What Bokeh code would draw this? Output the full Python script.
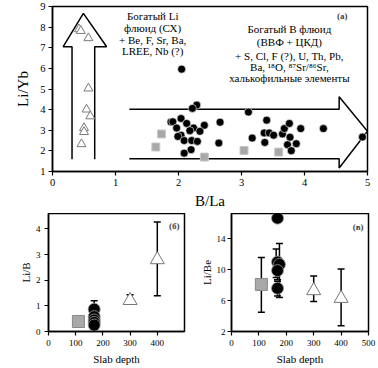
from bokeh.plotting import figure
from bokeh.layouts import column, row
from bokeh.models import FixedTicker, ColumnDataSource, Whisker, TeeHead, Label
from bokeh.embed import file_html
from bokeh.resources import INLINE

FONT = "Liberation Serif"

# ---------- panel (а): Li/Yb vs B/La ----------
tri_bla = [0.42, 0.45, 0.57, 0.57, 0.54, 0.60, 0.50, 0.50, 0.46]
tri_liyb = [7.90, 7.82, 7.47, 5.03, 4.01, 3.68, 3.11, 2.92, 2.33]

circ_bla = [2.05, 2.29, 2.22, 3.11, 1.88, 1.91, 2.04, 2.13, 1.97, 2.24, 2.41, 2.34, 2.18, 2.04,
            1.99, 2.09, 2.21, 2.30, 2.20, 2.09, 2.66, 2.64, 3.17, 3.40, 3.36, 3.44, 3.37, 3.51,
            3.65, 3.68, 3.76, 3.77, 3.73, 3.87, 3.79, 3.94, 4.30, 4.92]
circ_liyb = [5.96, 4.22, 4.06, 3.88, 3.40, 3.41, 3.57, 3.33, 3.11, 3.11, 3.24, 2.95, 2.98, 2.76,
             2.70, 2.50, 2.50, 2.46, 2.06, 1.89, 3.39, 2.38, 2.62, 3.49, 2.87, 2.87, 2.41, 2.76,
             2.82, 3.08, 3.33, 2.66, 2.30, 2.35, 2.01, 3.08, 3.08, 2.67]

sq_bla = [1.64, 1.73, 2.41, 3.04, 3.59]
sq_liyb = [2.19, 2.82, 1.70, 2.02, 1.94]

# arrow outlines (annotation shapes)
varrow_x = [0.31, 0.31, 0.17, 0.49, 0.86, 0.67, 0.67]
varrow_y = [1.60, 7.05, 7.05, 8.67, 7.05, 7.05, 1.60]
harrow_x = [1.22, 4.55, 4.55, 5.00, 4.55, 4.55, 1.22]
harrow_y = [4.02, 4.02, 4.62, 2.95, 1.17, 1.62, 1.62]

left_text = ["Богатый Li", "флюид (СХ)", "+ Be, F, Sr, Ba,", "LREE, Nb (?)"]
left_text_y = [8.52, 7.95, 7.38, 6.85]
right_text = ["Богатый B флюид", "(ВВФ + ЦКД)", "+ S, Cl, F (?), U, Th, Pb,",
              "Ba, \u00b9\u2078O, \u2078\u2077Sr/\u2078\u2076Sr,", "халькофильные элементы"]
right_text_y = [7.91, 7.26, 6.61, 6.07, 5.55]

# ---------- panel (б): Li/B vs slab depth ----------
b_sq_x, b_sq_y = [110], [0.39]
b_circ_x, b_circ_y = [168, 168, 168, 168, 168], [0.87, 0.58, 0.45, 0.35, 0.25]
b_tri_x, b_tri_y = [300, 400], [1.21, 2.80]
b_err_x = [168, 300, 400]
b_err_lo = [0.87, 1.21, 1.39]
b_err_hi = [1.20, 1.43, 4.27]

# ---------- panel (в): Li/Be vs slab depth ----------
c_sq_x, c_sq_y = [109], [8.1]
c_circ_x, c_circ_y = [168, 168, 175, 168, 168], [16.7, 11.0, 10.7, 9.9, 7.6]
c_tri_x, c_tri_y = [300, 400], [7.3, 6.3]
c_err_x = [109, 163, 175, 168, 168, 300, 400]
c_err_lo = [4.5, 9.0, 6.4, 8.7, 6.6, 5.9, 2.75]
c_err_hi = [11.6, 12.7, 13.4, 11.0, 8.5, 9.2, 10.1]


def style_axes(p, tick_size, label_size):
    for ax in (p.xaxis, p.yaxis):
        ax.axis_line_width = 1.5
        ax.axis_line_color = "black"
        ax.major_tick_line_width = 1.2
        ax.major_tick_out = 4
        ax.major_tick_in = 0
        ax.minor_tick_line_color = None
        ax.major_label_text_font = FONT
        ax.major_label_text_font_size = tick_size
        ax.major_label_text_color = "black"
        ax.axis_label_text_font = FONT
        ax.axis_label_text_font_size = label_size
        ax.axis_label_text_font_style = "normal"
        ax.axis_label_text_color = "black"
    p.grid.visible = False
    p.outline_line_color = "black"
    p.outline_line_width = 1.5
    p.outline_line_alpha = 1.0


# main panel
p = figure(width=374, height=213, x_range=(0, 5), y_range=(1, 9),
           output_backend="svg", toolbar_location=None, margin=(0, 0, 0, 4),
           min_border_left=48, min_border_right=11, min_border_top=6, min_border_bottom=42)
style_axes(p, "10.5px", "15px")
p.xaxis.ticker = FixedTicker(ticks=[0, 1, 2, 3, 4, 5])
p.yaxis.ticker = FixedTicker(ticks=[1, 2, 3, 4, 5, 6, 7, 8, 9])
p.xaxis.axis_label = "B/La"
p.yaxis.axis_label = "Li/Yb"
p.xaxis.major_label_standoff = 3
p.xaxis.axis_label_standoff = 4
p.yaxis.major_label_standoff = 3
p.yaxis.axis_label_standoff = 6

p.line(varrow_x, varrow_y, line_color="black", line_width=1.5)
p.line(harrow_x, harrow_y, line_color="black", line_width=1.5)

p.scatter(tri_bla, tri_liyb, marker="triangle", size=9, fill_color="white",
          line_color="#7a7a7a", line_width=1)
p.scatter(sq_bla, sq_liyb, marker="square", size=8, fill_color="#a8a8a8",
          line_color="#c8c8c8", line_width=1)
p.scatter(circ_bla, circ_liyb, marker="circle", size=8, fill_color="black",
          line_color="white", line_width=0.6)

for txt, yy in zip(left_text, left_text_y):
    p.add_layout(Label(x=1.59, y=yy, text=txt, text_font=FONT, text_font_size="11px",
                       text_align="center", text_baseline="middle", text_color="black"))
for txt, yy in zip(right_text, right_text_y):
    p.add_layout(Label(x=3.76, y=yy, text=txt, text_font=FONT, text_font_size="11px",
                       text_align="center", text_baseline="middle", text_color="black"))
p.add_layout(Label(x=4.6, y=8.56, text="(а)", text_font=FONT, text_font_size="9px",
                   text_font_style="bold", text_align="center", text_baseline="middle"))


def sub_panel(xs_sq, ys_sq, xs_c, ys_c, xs_t, ys_t, ex, elo, ehi, yr, yticks, xticks,
              ylabel, tag, tag_y, width, bl, br, shift, tick_standoff):
    q = figure(width=width - shift, height=155, x_range=(0, 500), y_range=yr,
               output_backend="svg", toolbar_location=None, margin=(0, 0, 0, shift),
               min_border_left=bl - shift, min_border_right=br, min_border_top=0,
               min_border_bottom=37)
    style_axes(q, "9px", "11px")
    q.xaxis.ticker = FixedTicker(ticks=xticks)
    q.yaxis.ticker = FixedTicker(ticks=yticks)
    q.xaxis.axis_label = "Slab depth"
    q.yaxis.axis_label = ylabel
    q.xaxis.major_label_standoff = 4
    q.xaxis.axis_label_standoff = 4
    q.yaxis.major_label_standoff = tick_standoff
    q.yaxis.axis_label_standoff = 1
    src = ColumnDataSource(dict(x=ex, lo=elo, hi=ehi))
    w = Whisker(source=src, base="x", lower="lo", upper="hi", line_width=1.5,
                line_color="black", level="underlay",
                upper_head=TeeHead(size=7, line_width=1.5, line_color="black"),
                lower_head=TeeHead(size=7, line_width=1.5, line_color="black"))
    q.add_layout(w)
    q.scatter(xs_sq, ys_sq, marker="square", size=12, fill_color="#a8a8a8",
              line_color="#888888", line_width=1)
    q.scatter(xs_c, ys_c, marker="circle", size=12, fill_color="black",
              line_color="#999999", line_width=0.8)
    q.scatter(xs_t, ys_t, marker="triangle", size=14, fill_color="white",
              line_color="#777777", line_width=1)
    q.add_layout(Label(x=462, y=tag_y, text=tag, text_font=FONT, text_font_size="9px",
                       text_font_style="bold", text_align="center", text_baseline="middle"))
    return q


pb = sub_panel(b_sq_x, b_sq_y, b_circ_x, b_circ_y, b_tri_x, b_tri_y,
               b_err_x, b_err_lo, b_err_hi, (0, 4.6), [0, 1, 2, 3, 4], [0, 100, 200, 300, 400],
               "Li/B", "(б)", 4.1, 188, 48, 4, 8, 4)
pc = sub_panel(c_sq_x, c_sq_y, c_circ_x, c_circ_y, c_tri_x, c_tri_y,
               c_err_x, c_err_lo, c_err_hi, (2, 17.3), [2, 6, 10, 14],
               [0, 100, 200, 300, 400, 500], "Li/Be", "(в)", 15.5, 190, 42, 10, 9, 2)

layout = column(p, row(pb, pc))

open("out.html", "w").write(file_html(layout, INLINE))
